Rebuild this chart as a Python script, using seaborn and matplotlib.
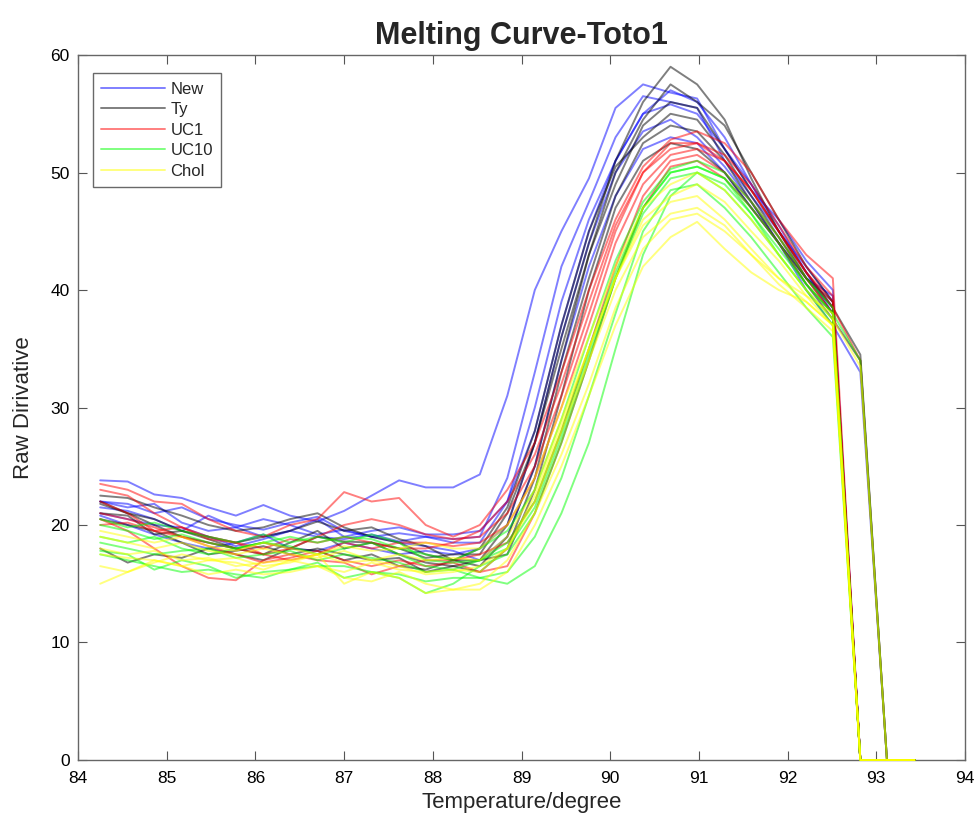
import numpy as np
import pandas as pd
import matplotlib
matplotlib.use("Agg")
import matplotlib.pyplot as plt
from matplotlib.lines import Line2D
import seaborn as sns

# ---------------- data ----------------
temps = [84.25, 84.56, 84.86, 85.17, 85.47, 85.78, 86.09, 86.39, 86.70, 87.00,
         87.31, 87.62, 87.92, 88.23, 88.53, 88.84, 89.15, 89.45, 89.76, 90.06,
         90.37, 90.68, 90.98, 91.29, 91.59, 91.90, 92.21, 92.51, 92.82, 93.12,
         93.43]

groups = ["New", "Ty", "UC1", "UC10", "Chol"]

new_curves = [
    [23.8, 23.7, 22.6, 22.3, 21.5, 20.8, 21.7, 20.8, 20.3, 21.2, 22.5, 23.8, 23.2, 23.2, 24.3,
     31.0, 40.0, 45.0, 49.5, 55.5, 57.5, 56.8, 56.3, 52.0, 48.5, 46.0, 42.5, 40.0, 0, 0, 0],
    [22.0, 21.8, 21.0, 21.5, 20.5, 20.0, 19.6, 20.2, 20.7, 19.5, 19.0, 19.3, 19.0, 18.8, 19.0,
     24.0, 33.0, 42.0, 47.5, 53.0, 56.5, 56.0, 55.5, 51.0, 48.0, 45.0, 42.0, 39.0, 0, 0, 0],
    [21.5, 21.2, 20.5, 19.5, 20.8, 19.8, 19.0, 19.5, 19.0, 18.8, 19.2, 18.6, 19.0, 18.5, 18.5,
     22.0, 30.0, 39.0, 46.0, 51.0, 55.0, 55.8, 55.0, 52.0, 49.0, 45.5, 41.5, 38.5, 0, 0, 0],
    [20.8, 20.0, 19.2, 18.5, 18.0, 18.5, 19.2, 18.0, 17.8, 18.5, 18.0, 17.5, 17.8, 17.5, 18.0,
     20.0, 27.0, 36.0, 44.0, 50.0, 53.5, 54.5, 53.0, 50.5, 47.5, 44.0, 40.0, 37.0, 33.0, 0, 0],
    [22.0, 21.5, 21.8, 20.2, 19.5, 19.8, 20.5, 20.0, 19.2, 19.6, 19.0, 18.5, 18.2, 17.8, 17.0,
     19.0, 25.0, 34.0, 42.0, 48.0, 52.0, 53.0, 52.5, 50.0, 47.0, 44.0, 41.0, 39.5, 0, 0, 0],
    [21.0, 20.5, 20.0, 19.8, 19.0, 18.2, 18.8, 19.5, 20.5, 19.0, 19.5, 19.8, 19.2, 19.2, 19.5,
     22.0, 28.0, 37.0, 45.0, 51.0, 55.0, 57.0, 56.0, 53.0, 49.0, 45.0, 41.5, 38.0, 0, 0, 0],
]

ty_curves = [
    [22.5, 22.3, 21.5, 20.8, 20.0, 19.5, 19.8, 20.5, 21.0, 19.8, 19.0, 18.5, 17.5, 17.0, 17.0,
     20.0, 27.0, 36.0, 44.0, 51.0, 56.0, 59.0, 57.5, 54.5, 49.5, 45.0, 41.0, 38.5, 34.5, 0, 0],
    [22.0, 21.0, 20.5, 19.5, 19.0, 18.5, 19.0, 19.5, 20.3, 19.5, 19.8, 18.8, 18.2, 17.0, 16.5,
     19.0, 25.0, 34.0, 43.0, 50.0, 54.5, 57.5, 56.0, 54.0, 50.0, 46.0, 42.0, 39.0, 0, 0, 0],
    [21.0, 20.8, 19.2, 19.5, 18.8, 18.0, 18.5, 18.0, 19.0, 18.6, 18.5, 18.0, 17.2, 17.5, 17.5,
     21.0, 27.0, 35.0, 43.0, 49.0, 54.0, 56.0, 55.5, 52.0, 48.5, 45.0, 41.5, 38.5, 0, 0, 0],
    [18.0, 16.8, 17.5, 17.2, 18.0, 17.5, 17.0, 18.0, 17.8, 17.0, 17.5, 16.5, 16.2, 17.0, 18.0,
     21.5, 28.0, 37.0, 45.0, 50.5, 53.0, 55.0, 54.5, 51.5, 48.0, 44.5, 41.0, 38.0, 0, 0, 0],
    [20.5, 20.0, 19.5, 18.5, 17.5, 17.8, 18.2, 17.5, 18.0, 17.5, 17.0, 17.2, 16.0, 16.5, 16.0,
     18.0, 24.0, 33.0, 41.0, 48.0, 52.5, 54.0, 53.5, 51.0, 47.5, 44.0, 40.5, 37.5, 34.0, 0, 0],
    [21.8, 21.0, 20.0, 19.0, 18.5, 18.0, 17.5, 18.5, 19.5, 18.0, 18.5, 17.5, 16.8, 16.5, 17.0,
     17.5, 23.0, 31.0, 40.0, 47.0, 51.0, 52.5, 52.0, 50.0, 47.0, 44.0, 41.0, 39.0, 0, 0, 0],
]

uc1_curves = [
    [23.5, 23.0, 22.0, 21.8, 20.5, 19.5, 19.0, 20.0, 20.5, 22.8, 22.0, 22.3, 20.0, 19.0, 20.0,
     23.0, 27.0, 33.0, 40.0, 46.0, 50.5, 52.8, 53.5, 52.5, 50.0, 46.0, 43.0, 41.0, 0, 0, 0],
    [23.0, 22.5, 21.0, 19.8, 19.0, 18.5, 17.5, 18.0, 19.0, 20.0, 20.5, 20.0, 19.2, 18.8, 19.0,
     21.0, 25.0, 31.0, 38.0, 45.0, 50.0, 52.5, 52.5, 51.5, 49.0, 45.5, 42.0, 39.5, 0, 0, 0],
    [22.0, 21.0, 19.5, 19.0, 18.5, 18.0, 17.5, 17.0, 17.5, 18.5, 18.0, 18.5, 18.5, 18.2, 18.5,
     20.0, 24.0, 30.0, 37.0, 44.0, 49.0, 51.5, 52.0, 51.0, 48.5, 45.0, 41.5, 38.5, 34.0, 0, 0],
    [20.5, 19.5, 18.0, 16.5, 15.5, 15.3, 17.0, 17.5, 17.0, 16.8, 15.8, 16.5, 17.0, 17.0, 17.5,
     18.5, 22.0, 28.0, 35.0, 42.0, 48.0, 51.0, 51.5, 50.0, 47.5, 44.5, 41.0, 38.0, 0, 0, 0],
    [21.0, 20.5, 19.8, 19.0, 18.2, 17.5, 16.8, 17.2, 17.8, 17.0, 16.5, 17.0, 16.5, 16.8, 16.0,
     16.5, 21.0, 27.0, 34.0, 41.0, 47.0, 50.5, 51.0, 49.5, 47.0, 44.0, 40.5, 38.0, 0, 0, 0],
    [20.0, 20.2, 19.5, 19.8, 18.8, 18.5, 18.0, 18.8, 18.5, 19.0, 18.5, 18.0, 18.0, 18.5, 19.5,
     22.0, 26.0, 32.0, 39.0, 45.5, 50.0, 52.0, 52.5, 51.0, 48.5, 45.0, 41.5, 39.0, 0, 0, 0],
]

uc10_curves = [
    [20.0, 19.5, 18.8, 19.2, 18.5, 18.0, 18.5, 19.0, 18.5, 19.0, 18.8, 18.0, 17.5, 17.0, 18.0,
     19.5, 23.0, 29.0, 36.0, 42.5, 47.5, 50.3, 51.0, 50.0, 47.5, 44.5, 41.0, 38.5, 0, 0, 0],
    [18.5, 18.0, 17.5, 17.8, 18.0, 17.2, 17.5, 17.8, 17.0, 17.5, 17.2, 16.8, 16.0, 16.2, 17.0,
     18.5, 22.0, 28.0, 35.0, 41.5, 47.0, 50.0, 50.5, 49.5, 47.0, 44.0, 40.5, 38.0, 34.0, 0, 0],
    [17.8, 17.5, 16.2, 17.0, 16.5, 15.5, 16.0, 16.2, 16.5, 16.5, 16.0, 15.5, 14.2, 15.0, 16.5,
     17.5, 21.0, 27.0, 34.0, 41.0, 46.5, 49.5, 50.0, 49.0, 46.5, 43.0, 40.0, 37.0, 0, 0, 0],
    [17.5, 17.0, 16.5, 16.0, 16.2, 15.8, 15.5, 16.2, 16.8, 15.5, 16.0, 15.8, 15.2, 15.5, 15.5,
     16.0, 19.0, 24.0, 31.0, 38.0, 45.0, 48.5, 49.0, 47.0, 44.5, 41.5, 38.5, 36.0, 0, 0, 0],
    [19.0, 18.5, 19.0, 18.0, 17.5, 18.0, 18.5, 18.2, 17.5, 18.0, 18.5, 17.5, 16.5, 16.2, 15.5,
     15.0, 16.5, 21.0, 27.0, 35.0, 43.0, 48.0, 50.0, 48.5, 46.0, 43.0, 40.0, 37.5, 0, 0, 0],
    [20.5, 19.8, 20.2, 19.5, 19.0, 18.5, 19.2, 18.5, 19.0, 18.5, 19.2, 18.5, 17.0, 16.8, 17.0,
     18.0, 21.5, 27.5, 34.5, 41.0, 47.0, 50.0, 50.5, 49.5, 46.5, 43.5, 40.5, 38.0, 0, 0, 0],
]

chol_curves = [
    [19.0, 18.5, 18.0, 18.5, 17.8, 17.5, 18.0, 17.5, 17.2, 17.8, 17.0, 17.5, 17.0, 17.2, 17.0,
     19.0, 23.0, 29.0, 35.0, 41.0, 45.5, 47.5, 48.0, 46.0, 43.5, 41.0, 39.5, 38.0, 0, 0, 0],
    [18.0, 17.5, 17.8, 17.0, 17.2, 16.5, 16.8, 17.0, 16.5, 16.0, 16.8, 16.2, 16.0, 16.2, 16.0,
     18.0, 22.0, 28.0, 34.0, 40.0, 44.5, 46.5, 47.0, 45.5, 43.0, 41.0, 39.0, 37.0, 0, 0, 0],
    [15.0, 16.0, 16.8, 17.5, 17.0, 17.2, 16.5, 16.8, 17.5, 15.0, 16.0, 15.5, 14.2, 14.5, 15.0,
     17.0, 21.0, 26.0, 32.0, 38.5, 43.5, 46.0, 46.5, 45.0, 43.0, 40.5, 38.5, 36.5, 0, 0, 0],
    [16.5, 16.0, 17.0, 16.5, 15.8, 16.2, 15.8, 16.0, 16.5, 15.5, 15.2, 16.0, 15.0, 14.5, 14.5,
     16.0, 20.0, 25.0, 31.0, 37.0, 42.0, 44.5, 45.8, 43.5, 41.5, 40.0, 39.0, 37.0, 0, 0, 0],
    [19.5, 19.0, 18.5, 19.0, 18.2, 17.8, 18.5, 18.0, 17.5, 18.2, 17.8, 18.0, 18.5, 18.0, 18.0,
     20.0, 24.0, 30.0, 36.0, 42.0, 47.0, 49.0, 50.0, 48.5, 46.0, 43.0, 40.0, 37.5, 33.5, 0, 0],
    [17.5, 17.2, 17.0, 16.5, 17.0, 16.8, 16.2, 17.0, 17.5, 16.8, 17.0, 16.5, 15.8, 16.0, 16.5,
     18.0, 22.5, 28.5, 35.0, 41.0, 46.0, 48.0, 49.0, 47.5, 45.0, 42.5, 39.5, 37.0, 0, 0, 0],
]

group_curves = [new_curves, ty_curves, uc1_curves, uc10_curves, chol_curves]
group_colors = ["#0000ff", "#000000", "#ff0000", "#00ff00", "#ffff00"]

# ---------------- long-form table ----------------
rows = []
for g, curves in zip(groups, group_curves):
    for i, c in enumerate(curves):
        for t, v in zip(temps, c):
            rows.append({"group": g, "sample": f"{g}_{i}", "temp": t, "value": v})
df = pd.DataFrame(rows)

# ---------------- style ----------------
sns.set_style("white")
plt.rcParams["font.family"] = ["Liberation Sans", "DejaVu Sans"]

fig = plt.figure(figsize=(9.8, 8.25), dpi=100)
ax = fig.add_axes([0.0796, 0.0788, 0.9051, 0.8545])

palette = dict(zip(groups, group_colors))
sns.lineplot(data=df, x="temp", y="value", hue="group", units="sample",
             estimator=None, palette=palette, hue_order=groups,
             linewidth=1.4, alpha=0.5, legend=False, ax=ax, sort=False)
for ln in ax.get_lines():
    ln.set_clip_on(False)
    ln.set_zorder(3)

ax.set_xlim(84, 94)
ax.set_ylim(0, 60)
ax.set_xticks(range(84, 95))
ax.set_yticks(range(0, 61, 10))
ax.tick_params(direction="in", length=6.5, width=0.8, colors="#555555",
               labelcolor="black", labelsize=12.5, top=True, right=True,
               bottom=True, left=True)
ax.tick_params(axis="x", pad=8)
ax.tick_params(axis="y", pad=6)
for s in ax.spines.values():
    s.set_visible(True)
    s.set_color("#666666")
    s.set_linewidth(1.0)
    s.set_zorder(2)

ax.set_title("Melting Curve-Toto1", fontsize=22, fontweight="bold", pad=8)
ax.set_xlabel("Temperature/degree", fontsize=16, labelpad=4)
ax.set_ylabel("Raw Dirivative", fontsize=16, labelpad=12)

handles = [Line2D([0], [0], color=c, alpha=0.5, lw=1.4) for c in group_colors]
leg = ax.legend(handles, groups, loc="upper left", bbox_to_anchor=(0.017, 0.974),
                borderaxespad=0, fontsize=12, handlelength=3.8, labelspacing=0.33,
                frameon=True, fancybox=False, edgecolor="#444444",
                handletextpad=0.35, borderpad=0.5)
leg.get_frame().set_linewidth(1.0)

fig.savefig("out.png", dpi=100)
